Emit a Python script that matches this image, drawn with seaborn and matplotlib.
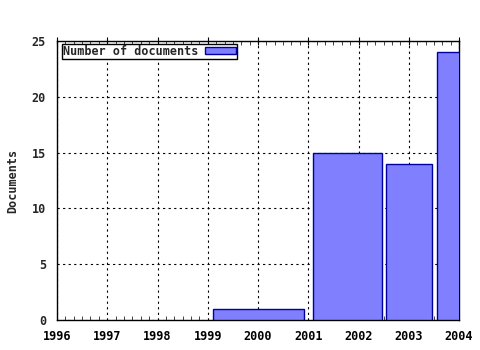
import matplotlib
matplotlib.use("Agg")
import matplotlib.pyplot as plt
from matplotlib.ticker import MultipleLocator
import seaborn as sns

# data
bar_left = [1999.10, 2001.10, 2002.55, 2003.56]
bar_right = [2000.91, 2002.46, 2003.46, 2004.45]
documents = [1, 15, 14, 24]
x_ticks = [1996, 1997, 1998, 1999, 2000, 2001, 2002, 2003, 2004]
y_ticks = [0, 5, 10, 15, 20, 25]
series_label = "Number of documents"

sns.set_style("white")
plt.rcParams['font.family'] = ['DejaVu Sans Mono', 'DejaVu Sans']
plt.rcParams['font.weight'] = 'bold'

FS = 8.5
fig = plt.figure(figsize=(4.8, 3.5), dpi=100)
ax = fig.add_axes([57/480, 1-320/350, (459-57)/480, (320-41)/350])

widths = [r - l for l, r in zip(bar_left, bar_right)]
ax.bar(bar_left, documents, width=widths, align='edge', color='#8080ff',
       edgecolor='#0000a0', linewidth=1.0, label=series_label, zorder=3)

ax.set_xlim(1996, 2004)
ax.set_ylim(0, 25)
ax.set_xticks(x_ticks)
ax.set_yticks(y_ticks)
ax.xaxis.set_minor_locator(MultipleLocator(1/6))
ax.grid(True, which='major', color='black', linestyle=(0, (2, 3)), linewidth=0.8, zorder=0)
for s in ax.spines.values():
    s.set_color('black')
    s.set_linewidth(1.0)
ax.tick_params(axis='x', which='major', direction='inout', length=6, top=True,
               labelsize=FS, colors='black', pad=4)
ax.tick_params(axis='x', which='minor', direction='in', length=3, top=True, bottom=True)
ax.tick_params(axis='y', which='major', direction='out', length=4, labelsize=FS, pad=4)
for lab in ax.get_xticklabels() + ax.get_yticklabels():
    lab.set_fontweight('bold')
ax.set_ylabel("Documents", fontsize=FS, fontweight='bold', labelpad=9)

leg = ax.legend(loc='upper left', bbox_to_anchor=(0.012, 0.99), markerfirst=False,
                frameon=True, fancybox=False, edgecolor='black', framealpha=1,
                prop={'size': FS, 'weight': 'bold'}, handlelength=2.6,
                handleheight=0.5, borderpad=0.1, borderaxespad=0.0, handletextpad=0.6)
leg.get_frame().set_linewidth(1.0)

fig.savefig("out.png", dpi=100, facecolor='white')
